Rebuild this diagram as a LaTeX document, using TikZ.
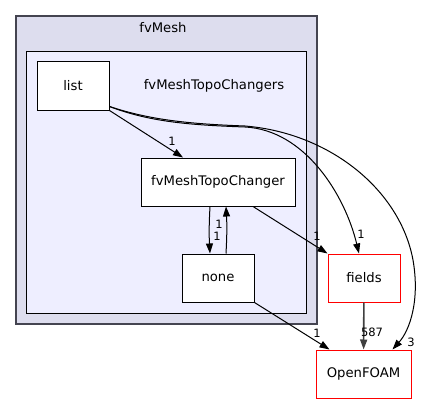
\documentclass[tikz,border=0pt]{standalone}
\usepackage{fontspec}
\setmainfont{DejaVu Sans}
\usetikzlibrary{arrows.meta}
\begin{document}
\begin{tikzpicture}[x=1pt,y=-1pt,
  dirbox/.style={draw=black,fill=white,minimum width=72pt,minimum height=48pt,inner sep=0pt,font=\fontsize{13.2}{15}\selectfont,line width=1pt},
  extbox/.style={dirbox,draw=red},
  edge/.style={draw=black,line width=1pt,-{Triangle[length=10pt,width=7pt]}},
  lbl/.style={font=\fontsize{11.5}{13}\selectfont,inner sep=0pt}]
\useasboundingbox (0,0) rectangle (426,404);
% clusters
\draw[fill={rgb,255:red,221;green,221;blue,238},draw={rgb,255:red,68;green,68;blue,80},line width=1.6pt] (16,16) rectangle (317,324);
\node[font=\fontsize{13.2}{15}\selectfont] (fvmeshlbl) at (163,28) {fvMesh};
\draw[fill={rgb,255:red,238;green,238;blue,255},draw=black,line width=1pt] (26,52) rectangle (306,313);
\node[font=\fontsize{13.2}{15}\selectfont] (topolbl) at (214,86) {fvMeshTopoChangers};
% nodes
\node[dirbox] (list) at (73,86) {list};
\node[dirbox,minimum width=154pt] (changer) at (218,182) {fvMeshTopoChanger};
\node[dirbox] (none) at (218,278) {none};
\node[extbox] (fields) at (364,278) {fields};
\node[extbox,minimum width=95pt] (openfoam) at (363.5,374) {OpenFOAM};
% edges
\draw[edge] (list.south east) -- ([xshift=-35pt]changer.north);
\node[lbl] (l1) at (172,141) {1};
\draw[edge] ([yshift=4pt]list.south east) .. controls (150,122) and (190,125) .. (245,127) .. controls (305,130) and (345,195) .. ([xshift=-5pt]fields.north);
\node[lbl] (l2) at (361,234) {1};
\draw[edge] ([yshift=4pt]list.south east) .. controls (150,120) and (190,124) .. (245,126) .. controls (330,133) and (400,190) .. (413,260) .. controls (420,300) and (410,330) .. ([xshift=29pt]openfoam.north);
\node[lbl] (l3) at (411,342) {3};
\draw[edge] ([xshift=-8pt]changer.south) .. controls (209,225) and (209,235) .. ([xshift=-8pt]none.north);
\node[lbl] (l4) at (217,236) {1};
\draw[edge] ([xshift=8pt]none.north) .. controls (227,235) and (227,225) .. ([xshift=8pt]changer.south);
\node[lbl] (l5) at (219,224) {1};
\draw[edge] ([xshift=35pt]changer.south) -- (fields.west |- fields.north);
\node[lbl] (l6) at (317,236) {1};
\draw[edge,draw={rgb,255:red,64;green,64;blue,64},line width=1.6pt] (fields) -- (openfoam);
\node[lbl] (l7) at (372,332) {587};
\draw[edge] (none.south east) -- ([xshift=-34pt]openfoam.north);
\node[lbl] (l8) at (317,333) {1};
\end{tikzpicture}
\end{document}
